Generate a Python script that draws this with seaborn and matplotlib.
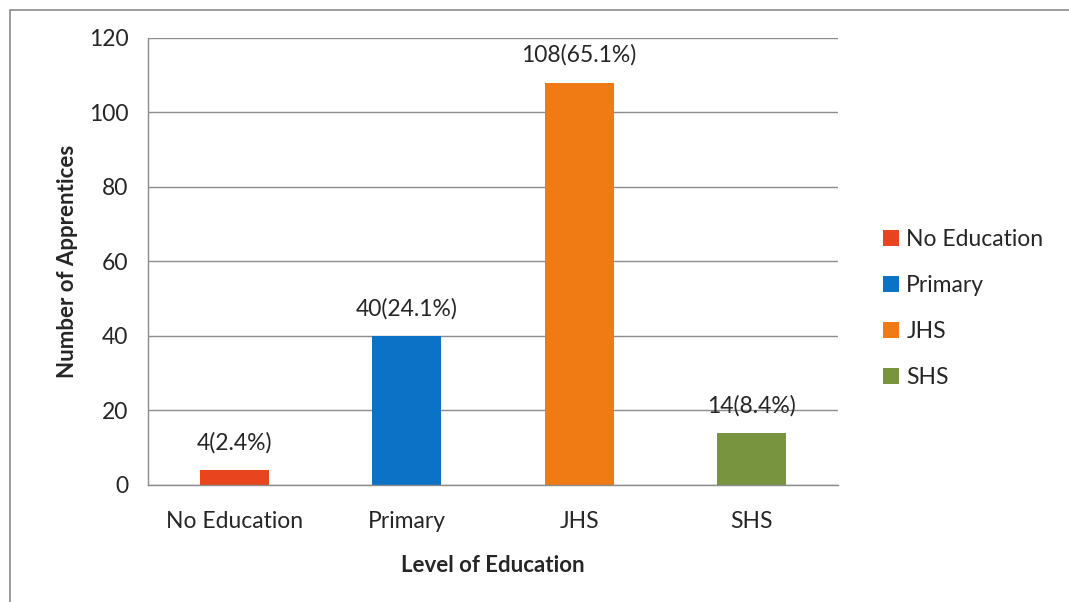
import matplotlib
matplotlib.use("Agg")
import matplotlib.pyplot as plt
import seaborn as sns
import pandas as pd
from matplotlib.patches import Rectangle

# --- data ---
levels = ["No Education", "Primary", "JHS", "SHS"]
counts = [4, 40, 108, 14]
percents = [2.4, 24.1, 65.1, 8.4]
colors = ["#E8451E", "#0B72C6", "#F07A14", "#79943E"]

df = pd.DataFrame({"level": levels, "count": counts})

sns.set_style("white")
plt.rcParams["font.family"] = ["Lato", "DejaVu Sans"]

fig = plt.figure(figsize=(10.69, 6.02), dpi=100)
ax = fig.add_axes([0.1384, 0.1944, 0.6455, 0.7425])

sns.barplot(data=df, x="level", y="count", hue="level", palette=colors,
            dodge=False, width=0.4, saturation=1, ax=ax, legend=True,
            edgecolor="none")

# value labels
for cont, c, p in zip(ax.containers, counts, percents):
    ax.bar_label(cont, labels=[f"{c}({p}%)"], padding=12, fontsize=16.5)

ax.set_ylim(0, 120)
ax.set_yticks(range(0, 121, 20))
ax.set_xlim(-0.5, 3.5)
ax.grid(axis="y", color="#8c8c8c", linewidth=1)
ax.set_axisbelow(True)

for s in ["top", "right"]:
    ax.spines[s].set_visible(False)
for s in ["left", "bottom"]:
    ax.spines[s].set_color("#8c8c8c")
    ax.spines[s].set_linewidth(1)

# Excel-style ticks between categories
ax.set_xticks([-0.5, 0.5, 1.5, 2.5, 3.5], minor=True)
ax.tick_params(axis="x", which="major", length=0, labelsize=16.5, pad=19)
ax.tick_params(axis="x", which="minor", length=6, color="#8c8c8c", direction="out")
ax.tick_params(axis="y", length=6, color="#8c8c8c", direction="out", labelsize=16.5, pad=8)

ax.set_xlabel("Level of Education", fontsize=16, fontweight="bold", labelpad=16)
ax.set_ylabel("Number of Apprentices", fontsize=16, fontweight="bold", labelpad=8)

leg = ax.legend(loc="center left", bbox_to_anchor=(1.036, 0.395), frameon=False,
                fontsize=16.5, handlelength=0.7, handleheight=0.7,
                handletextpad=0.3, labelspacing=1.1)

# outer chart frame (cut off at the right and bottom in the reference)
fig.patches.append(Rectangle((10 / 1069, -0.1), 1.2, 1 - 10 / 602 + 0.1,
                             transform=fig.transFigure, fill=False,
                             edgecolor="#8c8c8c", linewidth=1.2))

fig.savefig("out.png", dpi=100)
